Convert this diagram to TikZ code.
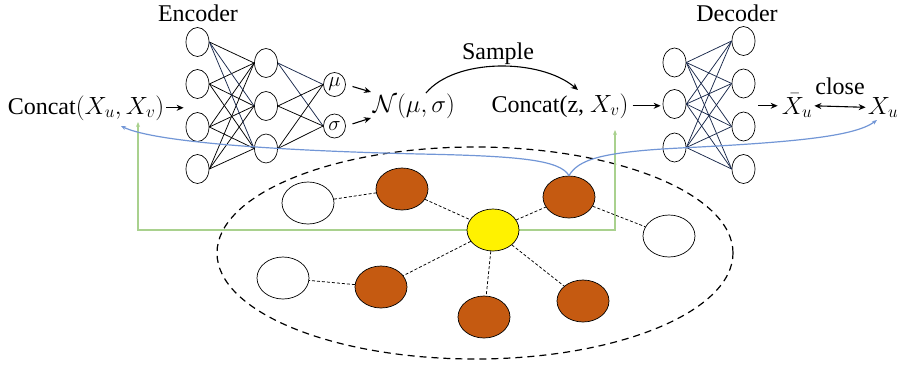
\documentclass[tikz,border=0pt]{standalone}
\usepackage{fontspec}
\setmainfont{Liberation Serif}
\usetikzlibrary{shapes.geometric,arrows.meta}
\definecolor{orng}{RGB}{197,90,17}
\definecolor{blu}{RGB}{114,150,214}
\definecolor{grn}{RGB}{169,209,142}
\definecolor{navy}{RGB}{25,40,75}
\begin{document}
\begin{tikzpicture}[x=1pt,y=-1pt,
 neuron/.style={ellipse,draw,line width=0.7pt,minimum width=23pt,minimum height=29pt,inner sep=0pt},
 param/.style={ellipse,draw,line width=0.7pt,minimum width=22pt,minimum height=24pt,inner sep=0pt,font=\fontsize{20}{20}\selectfont},
 gnode/.style={ellipse,draw,line width=0.7pt,minimum width=52pt,minimum height=42pt,inner sep=0pt},
 onode/.style={gnode,fill=orng},
 txt/.style={anchor=base,inner sep=0pt,font=\fontsize{24}{28}\selectfont},
 nnline/.style={line width=0.75pt,black},
 nnnavy/.style={line width=0.75pt,navy},
 gedge/.style={line width=0.75pt,dash pattern=on 3pt off 2pt},
 arr/.style={line width=1.1pt,-{Stealth[length=7pt,width=6pt]}},
 darr/.style={line width=1.1pt,{Stealth[length=7pt,width=6pt]}-{Stealth[length=7pt,width=6pt]}},
 bl/.style={line width=1.2pt,blu,-{Stealth[length=5pt,width=4pt]}},
 gr/.style={line width=1.2pt,grn,{Stealth[length=5pt,width=4pt]}-{Stealth[length=5pt,width=4pt]}}
]
\useasboundingbox (0,0) rectangle (898,368);
% outer dashed ellipse
\draw[line width=1.2pt,dash pattern=on 7pt off 5pt] (475,253) ellipse [x radius=258pt, y radius=106pt];
% graph nodes
\node[gnode] (w1) at (308,203) {};
\node[onode] (o1) at (402,189) {};
\node[gnode] (w2) at (283,278) {};
\node[onode] (o2) at (381,287) {};
\node[onode] (oTR) at (569,197) {};
\node[gnode] (wR) at (669,236) {};
\node[onode] (oB) at (484,317) {};
\node[onode] (oBR) at (583,301) {};
% green connector
\coordinate (gL) at (138,122);
\coordinate (gR) at (615,130);
\coordinate (gM) at (493,230);
\draw[gr] (gL) |- (gM) -| (gR);
\node[gnode,fill=yellow] (yel) at (gM) {};
% graph edges
\draw[gedge] (w1) -- (o1);
\draw[gedge] (o1) -- (yel);
\draw[gedge] (yel) -- (oTR);
\draw[gedge] (oTR) -- (wR);
\draw[gedge] (yel) -- (o2);
\draw[gedge] (o2) -- (w2);
\draw[gedge] (yel) -- (oB);
\draw[gedge] (yel) -- (oBR);
% encoder
\foreach \i/\y in {1/42,2/84,3/127,4/169} \node[neuron] (ea\i) at (197.5,\y) {};
\foreach \i/\y in {1/63,2/106,3/148.5} \node[neuron] (eb\i) at (266,\y) {};
\node[param] (mu) at (334.5,84.5) {$\mu$};
\node[param] (sg) at (334.5,126) {$\sigma$};
\foreach \i in {2,3,4} \foreach \j in {1,2,3} \draw[nnline] (ea\i.east) -- (eb\j.west);
\draw[nnline] (ea1.east) -- (eb1.west);
\draw[nnnavy] (ea1.east) -- (eb2.west);
\draw[nnnavy] (ea1.east) -- (eb3.west);
\draw[nnnavy] (eb1.east) -- (mu.west);
\draw[nnnavy] (eb1.east) -- (sg.west);
\foreach \i in {2,3} {\draw[nnline] (eb\i.east) -- (mu.west); \draw[nnline] (eb\i.east) -- (sg.west);}
% decoder
\foreach \i/\y in {1/62.5,2/104,3/147.5} \node[neuron] (da\i) at (674.5,\y) {};
\foreach \i/\y in {1/41,2/83.5,3/126.5,4/169} \node[neuron] (db\i) at (743.5,\y) {};
\foreach \i in {1,2,3} \foreach \j in {1,2,3,4} \draw[nnnavy] (da\i.east) -- (db\j.west);
% texts
\node[txt] (enc) at (198,21) {Encoder};
\node[txt] (dec) at (737,21) {Decoder};
\node[txt] (cin) at (86,114) {Concat$(X_u,X_v)$};
\node[txt] (nrm) at (414,112) {$\mathcal{N}(\mu,\sigma)$};
\node[txt] (smp) at (498,59) {Sample};
\node[txt] (cz) at (560,112) {Concat(z, $X_v)$};
\node[txt] (xb) at (797,114) {$\bar{X}_u$};
\node[txt] (cls) at (840,94) {close};
\node[txt] (xu) at (883,114) {$X_u$};
% arrows
\draw[arr,shorten <=2pt,shorten >=2pt] (cin.east) -- (cin.east -| ea2.west);
\coordinate (muT) at (371,92);
\coordinate (sgT) at (371,118);
\draw[arr,shorten <=7pt] (mu.east) -- (muT);
\draw[arr,shorten <=7pt] (sg.east) -- (sgT);
\coordinate (s0) at (426,93);
\coordinate (s1) at (578,90);
\draw[arr] (s0) .. controls (455,58) and (540,58) .. (s1);
\draw[arr,shorten <=4pt,shorten >=2pt] (cz.east) -- (cz.east -| da2.west);
\draw[arr,shorten <=3pt,shorten >=4pt] (xb.west -| db3.east) -- (xb.west);
\draw[darr,shorten <=2pt,shorten >=2pt] (xb.east) -- (xu.west);
% blue connectors
\coordinate (bL) at (121,126);
\coordinate (bR) at (877,120);
\draw[bl] (oTR.north) .. controls (560,160) and (520,156) .. (420,154) .. controls (250,150) and (150,140) .. (bL);
\draw[bl] (oTR.north) .. controls (578,160) and (600,152) .. (680,148) .. controls (800,142) and (855,136) .. (bR);
\end{tikzpicture}
\end{document}
